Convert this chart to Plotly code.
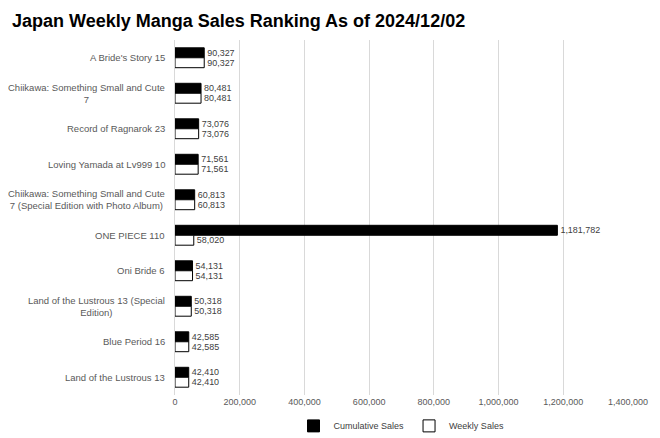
import plotly.graph_objects as go

titles = [
    "A Bride's Story 15",
    "Chiikawa: Something Small and Cute<br>7",
    "Record of Ragnarok 23",
    "Loving Yamada at Lv999 10",
    "Chiikawa: Something Small and Cute<br>7 (Special Edition with Photo Album)",
    "ONE PIECE 110",
    "Oni Bride 6",
    "Land of the Lustrous 13 (Special<br>Edition)",
    "Blue Period 16",
    "Land of the Lustrous 13",
]
cumulative = [90327, 80481, 73076, 71561, 60813, 1181782, 54131, 50318, 42585, 42410]
weekly = [90327, 80481, 73076, 71561, 60813, 58020, 54131, 50318, 42585, 42410]

fig = go.Figure()
fig.add_trace(go.Bar(
    y=titles, x=cumulative, name="Cumulative Sales", orientation="h",
    marker=dict(color="black", line=dict(color="black", width=1)),
    text=[f"{v:,}" for v in cumulative], textposition="outside",
    textfont=dict(size=9, color="#404040"), cliponaxis=False,
))
fig.add_trace(go.Bar(
    y=titles, x=weekly, name="Weekly Sales", orientation="h",
    marker=dict(color="white", line=dict(color="black", width=1)),
    text=[f"{v:,}" for v in weekly], textposition="outside",
    textfont=dict(size=9, color="#404040"), cliponaxis=False,
))

# category labels: right-aligned block, lines centred within it
for t in titles:
    fig.add_annotation(x=-0.018, xref="paper", y=t, yref="y", text=t, showarrow=False,
                       xanchor="right", align="center",
                       font=dict(size=9.5, color="#595959"))

fig.update_layout(
    width=660, height=438,
    title=dict(text="<b>Japan Weekly Manga Sales Ranking As of 2024/12/02</b>",
               x=0.006, y=0.985, yanchor="top",
               font=dict(family="Liberation Sans, Arial", size=18, color="black")),
    font=dict(family="Liberation Sans, Arial", size=10, color="#595959"),
    barmode="group", bargap=0.44, bargroupgap=0,
    plot_bgcolor="white", paper_bgcolor="white",
    margin=dict(l=167, r=40, t=32, b=51, autoexpand=False),
    legend=dict(orientation="h", x=0.5, xanchor="center", y=-0.087, yanchor="middle",
                font=dict(size=9, color="#404040"), itemwidth=30),
    showlegend=True,
)
fig.update_xaxes(range=[0, 1400000], dtick=200000, tickformat=",", showgrid=True,
                 gridcolor="#d9d9d9", zeroline=False, tickfont=dict(size=9), automargin=False)
fig.update_yaxes(autorange="reversed", showticklabels=False,
                 showline=True, linecolor="#d9d9d9", ticks="", automargin=False)
fig.write_html("out.html")
